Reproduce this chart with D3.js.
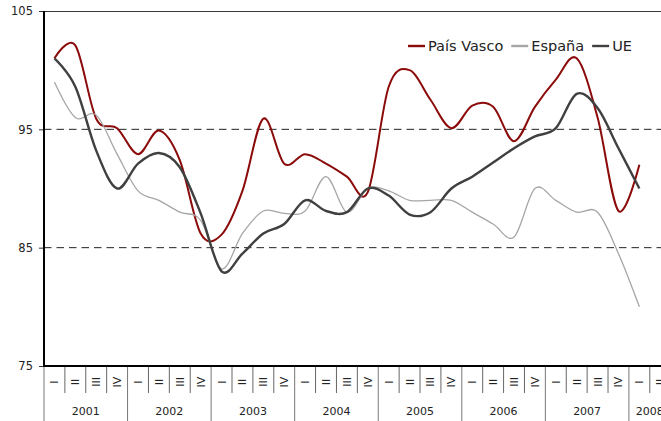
<!DOCTYPE html>
<html>
<head>
<meta charset="utf-8">
<script src="https://cdn.jsdelivr.net/npm/d3@7"></script>
<style>
  html, body { margin: 0; padding: 0; background: #fff; }
  svg { display: block; font-family: "DejaVu Sans", Verdana, sans-serif; }
</style>
</head>
<body>
<div id="chart"></div>
<script>
// quarterly index, 2001 I .. 2008 I
const years = [`2001`, `2002`, `2003`, `2004`, `2005`, `2006`, `2007`, `2008`];
const quarterLabels = [`I`, `II`, `III`, `IV`];
const quartersInLastYear = 2;
const yTicks = [75, 85, 95, 105];

const paisVasco = [101.0, 102.1, 95.9, 95.1, 92.9, 94.9, 92.4, 86.2, 86.1, 89.8,
  95.9, 92.1, 92.9, 92.1, 91.0, 89.7, 98.6, 100.0, 97.5, 95.1,
  97.0, 96.9, 94.0, 96.9, 99.2, 101.0, 96.0, 88.1, 92.0];
const espana = [99.0, 96.0, 96.2, 92.9, 89.8, 89.0, 88.0, 87.3, 83.2, 86.2,
  88.1, 87.9, 88.1, 91.0, 88.0, 90.0, 89.8, 89.0, 89.0, 89.0,
  88.0, 87.0, 85.9, 90.0, 89.0, 88.0, 88.0, 84.5, 80.0];
const ue = [101.0, 98.6, 93.2, 90.0, 92.1, 93.0, 91.8, 87.9, 83.0, 84.5,
  86.2, 87.0, 89.0, 88.1, 88.0, 90.0, 89.4, 87.8, 88.0, 90.0,
  91.0, 92.2, 93.4, 94.4, 95.1, 98.0, 96.8, 93.4, 90.0];

const seriesNames = [`País Vasco`, `España`, `UE`];

class LineChart {
  constructor(el) {
    this.el = el;
    this.width = 661;
    this.height = 421;
    this.left = 44;
    this.top = 11;
    this.bottom = 366;
    this.quarterWidth = 20.89;
    this.colors = [`#8b0a0a`, `#a6a6a6`, `#404040`];
    this.strokes = [2, 1.3, 2.4];
  }

  render() {
    this.svg = d3.select(this.el).append(`svg`)
        .attr(`width`, this.width)
        .attr(`height`, this.height);

    this.categories = years.flatMap((yr, i) => {
      const qs = i === years.length - 1 ? quarterLabels.slice(0, quartersInLastYear) : quarterLabels;
      return qs.map((q) => ({ year: yr, q: q, key: `${yr}-${q}` }));
    });

    this.x = d3.scaleBand()
      .domain(this.categories.map((d) => d.key))
      .range([this.left, this.left + this.categories.length * this.quarterWidth]);
    this.y = d3.scaleLinear()
      .domain([75, 105])
      .range([this.bottom, this.top]);

    this.drawGrid();
    this.drawCategoryAxis();
    this.drawLines();
    this.drawValueAxis();
    this.drawLegend();
  }

  drawGrid() {
    const right = this.width;
    this.svg.append(`g`).selectAll(`line`)
        .data(yTicks.filter((t) => t > 75 && t < 105))
      .enter().append(`line`)
        .attr(`x1`, this.left).attr(`x2`, right)
        .attr(`y1`, (d) => this.y(d)).attr(`y2`, (d) => this.y(d))
        .attr(`stroke`, `#222`)
        .attr(`stroke-width`, 1)
        .attr(`stroke-dasharray`, `7.5,5`);

    // top border at 105
    this.svg.append(`line`)
        .attr(`x1`, this.left).attr(`x2`, right)
        .attr(`y1`, this.y(105) + 0.5).attr(`y2`, this.y(105) + 0.5)
        .attr(`stroke`, `#3a3a3a`)
        .attr(`stroke-width`, 1.2);
  }

  drawCategoryAxis() {
    const g = this.svg.append(`g`);
    const bw = this.x.bandwidth();

    // quarter separators
    g.selectAll(`.qsep`)
        .data(this.categories.filter((d) => d.q !== `I`))
      .enter().append(`line`)
        .attr(`x1`, (d) => this.x(d.key)).attr(`x2`, (d) => this.x(d.key))
        .attr(`y1`, this.bottom).attr(`y2`, 393)
        .attr(`stroke`, `#666`);

    // year separators
    g.selectAll(`.ysep`)
        .data(this.categories.filter((d) => d.q === `I`))
      .enter().append(`line`)
        .attr(`x1`, (d) => this.x(d.key)).attr(`x2`, (d) => this.x(d.key))
        .attr(`y1`, this.bottom).attr(`y2`, this.height)
        .attr(`stroke`, `#777`);

    g.selectAll(`.qlabel`)
        .data(this.categories)
      .enter().append(`text`)
        .attr(`transform`, (d) => `translate(${this.x(d.key) + bw / 2 + 4},382) rotate(-90)`)
        .attr(`text-anchor`, `middle`)
        .attr(`font-size`, 11)
        .attr(`fill`, `#222`)
        .text((d) => d.q);

    g.selectAll(`.ylabel`)
        .data(years)
      .enter().append(`text`)
        .attr(`x`, (d) => {
          const cats = this.categories.filter((c) => c.year === d);
          return (this.x(cats[0].key) + this.x(cats[cats.length - 1].key) + bw) / 2;
        })
        .attr(`y`, 415)
        .attr(`text-anchor`, `middle`)
        .attr(`font-size`, 11)
        .attr(`fill`, `#222`)
        .text((d) => d);
  }

  drawLines() {
    const bw = this.x.bandwidth();
    const line = d3.line()
      .x((d, i) => this.x(this.categories[i].key) + bw / 2)
      .y((d) => this.y(d))
      .curve(d3.curveCardinal.tension(0));

    [paisVasco, espana, ue].forEach((values, i) => {
      this.svg.append(`path`)
          .datum(values)
          .attr(`fill`, `none`)
          .attr(`stroke`, this.colors[i])
          .attr(`stroke-width`, this.strokes[i])
          .attr(`stroke-linejoin`, `round`)
          .attr(`d`, line);
    });
  }

  drawValueAxis() {
    const axis = this.svg.append(`g`)
        .attr(`transform`, `translate(${this.left},0)`)
        .call(d3.axisLeft(this.y).tickValues(yTicks).tickSize(5).tickPadding(6));
    axis.select(`.domain`).remove();
    axis.selectAll(`line`).attr(`stroke`, `#333`);
    axis.selectAll(`text`)
        .attr(`font-family`, `"DejaVu Sans", Verdana, sans-serif`)
        .attr(`font-size`, 11.5)
        .attr(`fill`, `#222`);

    this.svg.append(`line`)
        .attr(`x1`, this.left).attr(`x2`, this.left)
        .attr(`y1`, this.top).attr(`y2`, this.bottom + 1)
        .attr(`stroke`, `#000`).attr(`stroke-width`, 2);
    this.svg.append(`line`)
        .attr(`x1`, this.left - 1).attr(`x2`, this.width)
        .attr(`y1`, this.bottom).attr(`y2`, this.bottom)
        .attr(`stroke`, `#000`).attr(`stroke-width`, 2);
  }

  drawLegend() {
    const g = this.svg.append(`g`).attr(`transform`, `translate(408,46)`);
    let offset = 0;
    seriesNames.forEach((name, i) => {
      g.append(`line`)
          .attr(`x1`, offset).attr(`x2`, offset + 17)
          .attr(`y1`, 0).attr(`y2`, 0)
          .attr(`stroke`, this.colors[i])
          .attr(`stroke-width`, 2.4);
      const t = g.append(`text`)
          .attr(`x`, offset + 20)
          .attr(`y`, 5)
          .attr(`font-size`, 14.5)
          .attr(`fill`, `#222`)
          .text(name);
      offset += 20 + t.node().getComputedTextLength() + 8;
    });
  }
}

new LineChart(`#chart`).render();
</script>
</body>
</html>
